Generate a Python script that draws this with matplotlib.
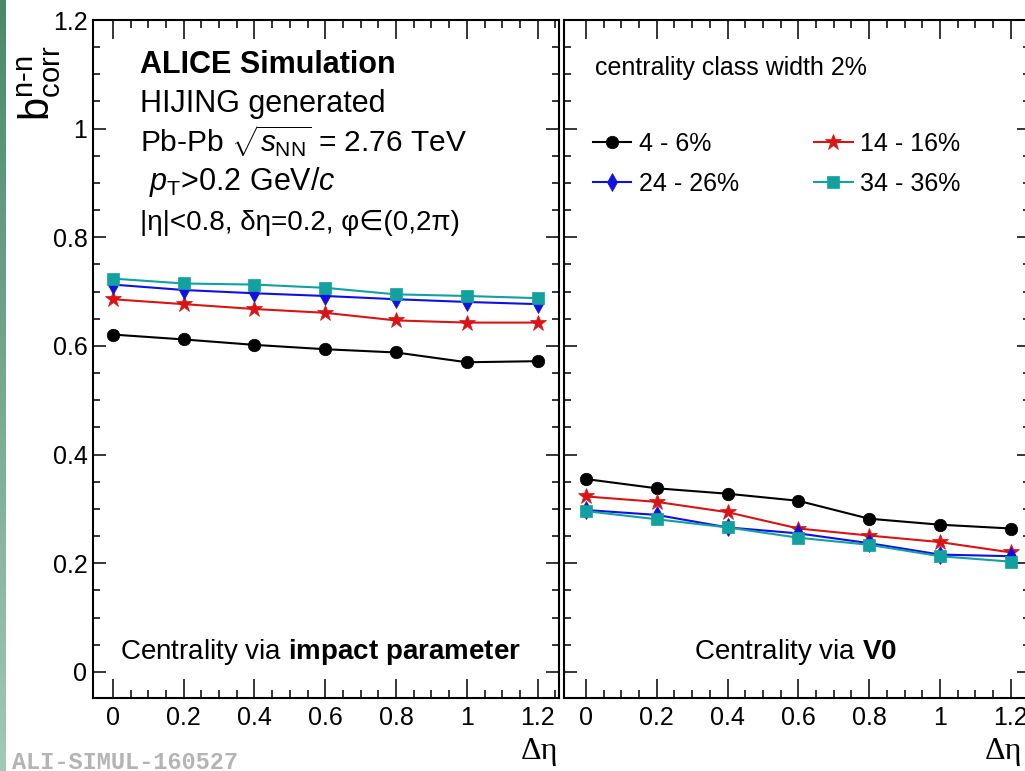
import matplotlib
matplotlib.use('Agg')
import matplotlib.pyplot as plt
import numpy as np

matplotlib.rcParams.update({
    'font.family': ['Liberation Sans', 'DejaVu Sans'],
    'font.size': 18,
    'mathtext.fontset': 'custom',
    'mathtext.rm': 'Liberation Sans',
    'mathtext.it': 'Liberation Sans:italic',
    'mathtext.bf': 'Liberation Sans:bold',
})

deta = [0.0, 0.2, 0.4, 0.6, 0.8, 1.0, 1.2]

# centrality via impact parameter
imp_4_6 = [0.621, 0.612, 0.602, 0.594, 0.588, 0.570, 0.572]
imp_14_16 = [0.686, 0.677, 0.668, 0.661, 0.647, 0.643, 0.643]
imp_24_26 = [0.713, 0.703, 0.697, 0.692, 0.686, 0.681, 0.677]
imp_34_36 = [0.724, 0.715, 0.713, 0.707, 0.695, 0.692, 0.688]

# centrality via V0
v0_4_6 = [0.355, 0.338, 0.328, 0.315, 0.282, 0.271, 0.264]
v0_14_16 = [0.323, 0.313, 0.294, 0.264, 0.251, 0.239, 0.220]
v0_24_26 = [0.298, 0.289, 0.266, 0.255, 0.237, 0.216, 0.213]
v0_34_36 = [0.296, 0.281, 0.266, 0.247, 0.234, 0.213, 0.203]

labels = ['4 - 6%', '14 - 16%', '24 - 26%', '34 - 36%']
colors = ['black', '#d81414', '#1010e0', '#12a0a0']
markers = ['o', '*', 'd', 's']
msizes = [9, 12, 9, 9]

W, H = 1025, 771
fg = plt.figure(figsize=(W / 100, H / 100), dpi=100)

# green strip on the left edge
strip = fg.add_axes([0, 0, 6 / W, 1])
grad = np.linspace(0, 1, 256).reshape(-1, 1)
cmap = matplotlib.colors.LinearSegmentedColormap.from_list('g', ['#4a8a68', '#a2c8b8'])
strip.imshow(grad, aspect='auto', cmap=cmap)
strip.axis('off')

axw = 466 / W
axb = 1 - 698 / H
axh = 678 / H
ax1 = fg.add_axes([93 / W, axb, axw, axh])
ax2 = fg.add_axes([564 / W, axb, axw, axh])


def style(ax, xlo):
    ax.set_xlim(xlo, xlo + 466 / 354)
    ax.set_ylim(-0.048, 1.2)
    ax.set_xticks(deta)
    ax.set_xticklabels(['0', '0.2', '0.4', '0.6', '0.8', '1', '1.2'])
    ax.set_xticks(np.arange(0, 1.26, 0.05), minor=True)
    ax.set_yticks([0, 0.2, 0.4, 0.6, 0.8, 1.0, 1.2])
    ax.set_yticklabels(['0', '0.2', '0.4', '0.6', '0.8', '1', '1.2'])
    ax.set_yticks(np.arange(0, 1.21, 0.05), minor=True)
    ax.tick_params(which='both', direction='in', top=True, right=True, width=1.1, labelsize=18)
    ax.tick_params(axis='x', which='major', length=13.5, pad=6)
    ax.tick_params(axis='x', which='minor', length=6)
    ax.tick_params(axis='y', which='major', length=9.5, pad=4)
    ax.tick_params(axis='y', which='minor', length=5)
    for s in ax.spines.values():
        s.set_linewidth(1.5)


style(ax1, -0.056)
style(ax2, -0.062)
ax2.tick_params(axis='y', labelleft=False)

handles = []
for ax, series in [(ax1, [imp_4_6, imp_14_16, imp_24_26, imp_34_36]),
                   (ax2, [v0_4_6, v0_14_16, v0_24_26, v0_34_36])]:
    hs = []
    for y, c, m, ms, lab in zip(series, colors, markers, msizes, labels):
        h, = ax.plot(deta, y, color=c, marker=m, markersize=ms, linewidth=1.5,
                     markeredgewidth=0.5, label=lab, clip_on=False)
        hs.append(h)
    handles = hs

# legend: column-wise fill -> black, blue | red, teal
ax2.legend([handles[0], handles[2], handles[1], handles[3]],
           [labels[0], labels[2], labels[1], labels[3]],
           ncol=2, frameon=False, loc='upper left', bbox_to_anchor=(0.04, 0.85),
           handlelength=1.55, handletextpad=0.3, columnspacing=3.0,
           labelspacing=0.64, fontsize=18, borderaxespad=0)

tx = 0.101
ax1.text(tx, 0.9218, 'ALICE Simulation', transform=ax1.transAxes, fontsize=22,
         fontweight='bold', va='baseline')
ax1.text(tx, 0.8643, 'HIJING generated', transform=ax1.transAxes, fontsize=22, va='baseline')
ax1.text(tx, 0.8048, r'Pb-Pb $\sqrt{s_{\mathrm{NN}}}$ = 2.76 TeV', transform=ax1.transAxes,
         fontsize=21.5, va='baseline')
ax1.text(tx + 0.02, 0.7493, r'$p_{\mathrm{T}}$>0.2 GeV/$c$', transform=ax1.transAxes,
         fontsize=22, va='baseline')
ax1.text(tx, 0.6903, '|\u03b7|<0.8, \u03b4\u03b7=0.2, \u03c6\u2208(0,2\u03c0)', transform=ax1.transAxes,
         fontsize=20, va='baseline')

ax1.text(0.489, 0.0575, r'Centrality via $\mathbf{impact\ parameter}$', transform=ax1.transAxes,
         fontsize=20, ha='center', va='baseline')
ax2.text(0.4957, 0.0575, r'Centrality via $\mathbf{V0}$', transform=ax2.transAxes,
         fontsize=20, ha='center', va='baseline')
ax2.text(0.0665, 0.919, 'centrality class width 2%', transform=ax2.transAxes,
         fontsize=18, va='baseline')

fg.text(0.038, 1 - 83 / H, r'$\mathrm{b}_{\mathrm{corr}}^{\mathrm{n}\text{-}\mathrm{n}}$',
        rotation=90, fontsize=30, ha='center', va='center')
fg.text(558 / W, 1 - 752 / H, '\u0394\u03b7', family='Liberation Serif', fontsize=23,
        ha='right', va='center')
fg.text(985 / W, 1 - 752 / H, '\u0394\u03b7', family='Liberation Serif', fontsize=23,
        ha='left', va='center')
fg.text(12 / W, 2 / H, 'ALI-SIMUL-160527', family='Liberation Mono', fontweight='bold',
        fontsize=17, color='#b4b4b4', ha='left', va='baseline')

fg.savefig('out.png', dpi=100)
